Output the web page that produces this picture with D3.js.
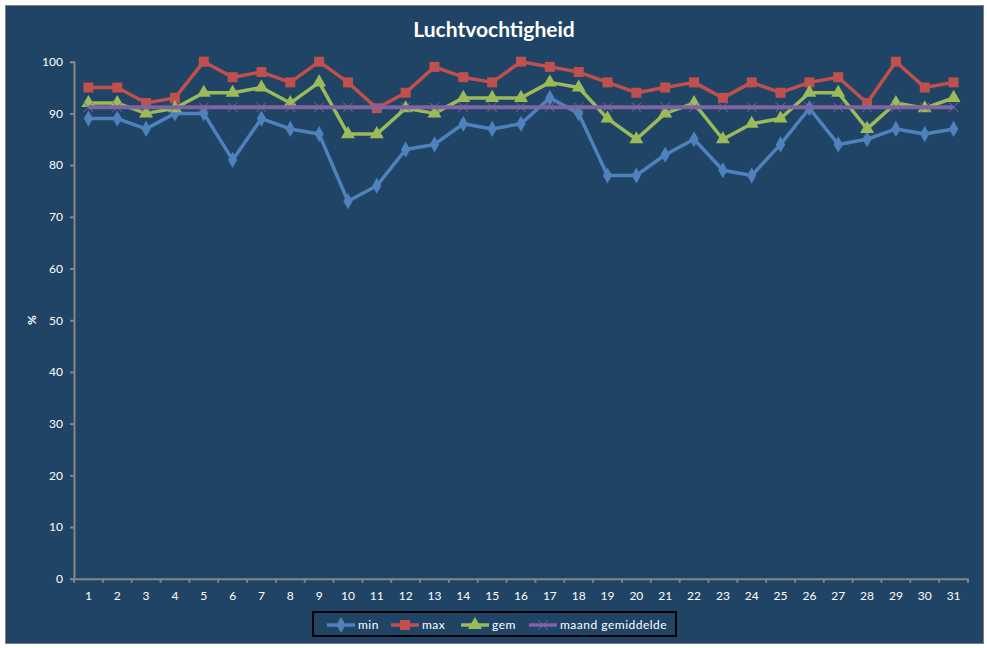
<!DOCTYPE html>
<html>
<head>
<meta charset="utf-8">
<script src="https://cdn.jsdelivr.net/npm/d3@7"></script>
<style>
  body { margin: 0; background: #ffffff; }
  svg text { font-family: Lato, "Liberation Sans", sans-serif; }
</style>
</head>
<body>
<div id="chart"></div>
<script>

// data
var days = d3.range(1, 32);
var minVals = [89, 89, 87, 90, 90, 81, 89, 87, 86, 73, 76, 83, 84, 88, 87, 88, 93, 90, 78, 78, 82, 85, 79, 78, 84, 91, 84, 85, 87, 86, 87];
var maxVals = [95, 95, 92, 93, 100, 97, 98, 96, 100, 96, 91, 94, 99, 97, 96, 100, 99, 98, 96, 94, 95, 96, 93, 96, 94, 96, 97, 92, 100, 95, 96];
var gemVals = [92, 92, 90, 91, 94, 94, 95, 92, 96, 86, 86, 91, 90, 93, 93, 93, 96, 95, 89, 85, 90, 92, 85, 88, 89, 94, 94, 87, 92, 91, 93];
var maandVals = days.map(function() { return 91.2; });
var yTicks = [0, 10, 20, 30, 40, 50, 60, 70, 80, 90, 100];

var series = [
  {name: "min", values: minVals, color: "#4F81BD", marker: "diamond"},
  {name: "max", values: maxVals, color: "#C0504D", marker: "square"},
  {name: "gem", values: gemVals, color: "#9BBB59", marker: "triangle"},
  {name: "maand gemiddelde", values: maandVals, color: "#8064A2", marker: "x"}
];

var W = 987, H = 648;
var margin = {top: 61.7, right: 19, bottom: 69.3, left: 74};
var width = W - margin.left - margin.right,
    height = H - margin.top - margin.bottom;

var svg = d3.select("#chart")
  .append("svg")
    .attr("width", W)
    .attr("height", H);

// chart area background
svg.append("rect")
  .attr("x", 5.5).attr("y", 5.5)
  .attr("width", 978).attr("height", 638)
  .attr("fill", "#1F4465")
  .attr("stroke", "#7f7f7f")
  .attr("stroke-width", 1);

// title
svg.append("text")
  .attr("x", 494).attr("y", 37)
  .attr("text-anchor", "middle")
  .attr("fill", "#ffffff")
  .style("font-size", "21px")
  .style("font-weight", "bold")
  .text("Luchtvochtigheid");

var g = svg.append("g")
  .attr("transform", "translate(" + margin.left + "," + margin.top + ")");

var x = d3.scaleBand()
  .domain(days)
  .range([0, width]);

var y = d3.scaleLinear()
  .domain([0, 100])
  .range([height, 0]);

// y axis
var yAxis = g.append("g")
  .call(d3.axisLeft(y).tickValues(yTicks).tickSize(4).tickPadding(7));
yAxis.selectAll("text").attr("fill", "#ffffff").style("font-size", "12px");

// x axis, ticks at band edges
var xAxis = g.append("g")
  .attr("transform", "translate(0," + height + ")")
  .call(d3.axisBottom(x).tickSize(0).tickPadding(13));
xAxis.selectAll("text").attr("fill", "#ffffff").style("font-size", "12px");
xAxis.selectAll(".edge")
  .data(d3.range(0, days.length + 1))
  .enter()
  .append("line")
    .attr("x1", function(i) { return i * x.bandwidth(); })
    .attr("x2", function(i) { return i * x.bandwidth(); })
    .attr("y1", 0).attr("y2", 4);

svg.selectAll(".domain, .tick line, g line")
  .attr("stroke", "#868686")
  .attr("stroke-width", 2);

// y label
svg.append("text")
  .attr("transform", "translate(36,320) rotate(-90)")
  .attr("text-anchor", "middle")
  .attr("fill", "#ffffff")
  .style("font-size", "12px")
  .style("font-weight", "bold")
  .text("%");

var symbols = {
  diamond: d3.symbol().type(d3.symbolDiamond).size(75),
  square: d3.symbol().type(d3.symbolSquare).size(100),
  triangle: d3.symbol().type(d3.symbolTriangle).size(85),
  x: d3.symbol().type(d3.symbolTimes).size(60)
};

var line = d3.line()
  .x(function(d, i) { return x(days[i]) + x.bandwidth() / 2; })
  .y(function(d) { return y(d); });

series.forEach(function(s) {
  var sg = g.append("g");
  sg.append("path")
    .datum(s.values)
    .attr("fill", "none")
    .attr("stroke", s.color)
    .attr("stroke-width", s.marker == "x" ? 4 : 3.5)
    .attr("stroke-linejoin", "round")
    .attr("d", line);
  sg.selectAll("path.m")
    .data(s.values)
    .enter()
    .append("path")
      .attr("class", "m")
      .attr("transform", function(d, i) {
        return "translate(" + (x(days[i]) + x.bandwidth() / 2) + "," + y(d) + ")";
      })
      .attr("d", symbols[s.marker])
      .attr("fill", s.marker == "x" ? "none" : s.color)
      .attr("stroke", s.color)
      .attr("stroke-width", s.marker == "x" ? 1 : 0);
});

// legend
var legend = svg.append("g");
legend.append("rect")
  .attr("x", 313).attr("y", 612)
  .attr("width", 363).attr("height", 24)
  .attr("fill", "none")
  .attr("stroke", "#000000")
  .attr("stroke-width", 2);

var legendX = [327, 391, 461, 529];
series.forEach(function(s, i) {
  var lg = legend.append("g").attr("transform", "translate(" + legendX[i] + ",625)");
  lg.append("line")
    .attr("x1", 0).attr("x2", 28)
    .attr("stroke", s.color).attr("stroke-width", 3.5);
  lg.append("path")
    .attr("transform", "translate(14,0)")
    .attr("d", symbols[s.marker])
    .attr("fill", s.marker == "x" ? "none" : s.color)
    .attr("stroke", s.color)
    .attr("stroke-width", s.marker == "x" ? 1 : 0);
  lg.append("text")
    .attr("x", 31).attr("y", 4)
    .attr("fill", "#ffffff")
    .style("font-size", "12px")
    .style("letter-spacing", "0.5px")
    .text(s.name);
});

</script>
</body>
</html>
